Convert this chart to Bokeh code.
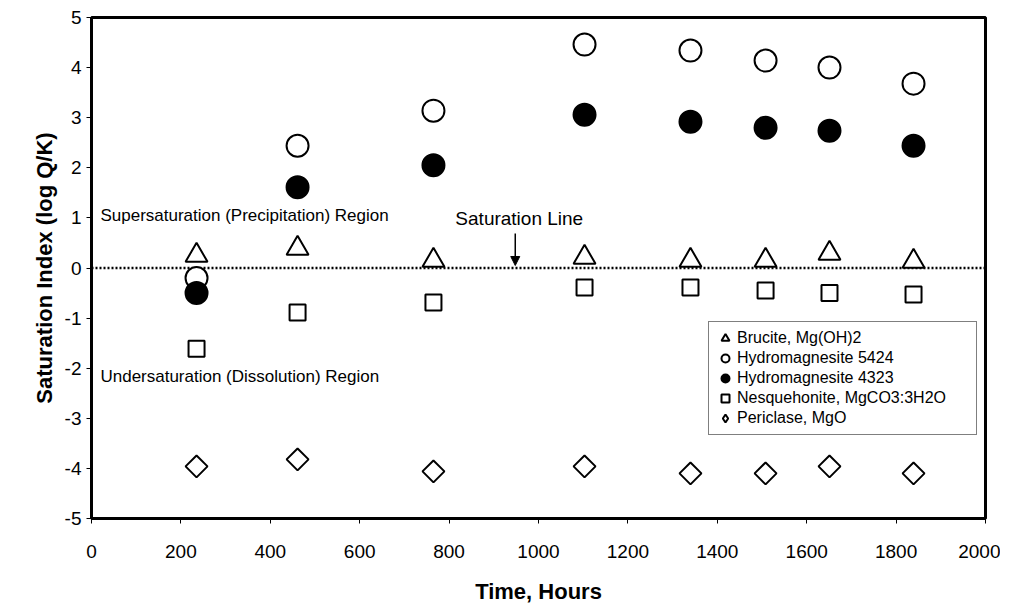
import math
from bokeh.plotting import figure
from bokeh.models import (Range1d, Legend, LegendItem, Arrow, NormalHead, Label,
                          FixedTicker, CustomJSTickFormatter)
from bokeh.embed import file_html
from bokeh.resources import INLINE

hours = [235, 461, 765, 1103, 1340, 1508, 1651, 1839]
brucite = [0.25, 0.39, 0.15, 0.21, 0.15, 0.15, 0.29, 0.13]
hydro5424 = [-0.2, 2.44, 3.14, 4.46, 4.34, 4.14, 4.0, 3.68]
hydro4323 = [-0.5, 1.61, 2.05, 3.06, 2.92, 2.80, 2.74, 2.44]
nesquehonite = [-1.61, -0.89, -0.69, -0.39, -0.39, -0.45, -0.50, -0.53]
periclase = [-3.96, -3.82, -4.06, -3.96, -4.10, -4.10, -3.96, -4.10]

x_ticks = [0, 200, 400, 600, 800, 1000, 1200, 1400, 1600, 1800, 2000]
y_ticks = [-5, -4, -3, -2, -1, 0, 1, 2, 3, 4, 5]

FONT = "Liberation Sans"

p = figure(width=1000, height=608, output_backend="svg", toolbar_location=None,
           x_range=Range1d(0, 2000), y_range=Range1d(-5, 5),
           min_border_left=91, min_border_right=15, min_border_top=17, min_border_bottom=90)
p.grid.visible = False
p.outline_line_color = "black"
p.outline_line_width = 3
p.background_fill_color = "white"

fmt = CustomJSTickFormatter(code="return tick.toString();")
for ax in (p.xaxis, p.yaxis):
    ax.axis_line_color = "black"
    ax.axis_line_width = 3
    ax.major_tick_line_color = "black"
    ax.major_tick_line_width = 1
    ax.major_tick_out = 5
    ax.major_tick_in = 0
    ax.minor_tick_line_color = None
    ax.major_label_text_font = FONT
    ax.major_label_text_font_size = "19px"
    ax.major_label_text_color = "black"
    ax.axis_label_text_font = FONT
    ax.axis_label_text_font_size = "22px"
    ax.axis_label_text_font_style = "bold"
    ax.axis_label_text_color = "black"
    ax.formatter = fmt

p.xaxis.ticker = FixedTicker(ticks=x_ticks)
p.yaxis.ticker = FixedTicker(ticks=y_ticks)
p.xaxis.axis_label = "Time, Hours"
p.yaxis.axis_label = "Saturation Index (log Q/K)"
p.xaxis.major_label_standoff = 21
p.yaxis.major_label_standoff = 5
p.xaxis.axis_label_standoff = 18
p.yaxis.axis_label_standoff = 5

# saturation line
p.line(x=[0, 2000], y=[0, 0], line_color="black", line_width=2.5, line_dash="2 2")

r_b = p.scatter(hours, brucite, marker="triangle", size=22, fill_color="white",
                line_color="black", line_width=2)
r_h5 = p.scatter(hours, hydro5424, marker="circle", size=22, fill_color="white",
                 line_color="black", line_width=2)
r_h4 = p.scatter(hours, hydro4323, marker="circle", size=22, fill_color="black",
                 line_color="black", line_width=2)
r_n = p.scatter(hours, nesquehonite, marker="square", size=16, fill_color="white",
                line_color="black", line_width=2)
r_p = p.scatter(hours, periclase, marker="square", size=15.5, angle=math.pi / 4,
                fill_color="white", line_color="black", line_width=2)
# hidden renderer only used to draw the periclase legend glyph (diamond)
r_p_leg = p.scatter(hours, periclase, marker="diamond", size=12, fill_color="white",
                    line_color="black", line_width=2, visible=False)

legend = Legend(items=[
    LegendItem(label="Brucite, Mg(OH)2", renderers=[r_b]),
    LegendItem(label="Hydromagnesite 5424", renderers=[r_h5]),
    LegendItem(label="Hydromagnesite 4323", renderers=[r_h4]),
    LegendItem(label="Nesquehonite, MgCO3:3H2O", renderers=[r_n]),
    LegendItem(label="Periclase, MgO", renderers=[r_p_leg]),
], location=(617, 83))
legend.click_policy = "none"
legend.inactive_fill_alpha = 0
legend.label_text_font = FONT
legend.label_text_font_size = "16px"
legend.label_text_color = "black"
legend.glyph_width = 20
legend.glyph_height = 20
legend.label_height = 20
legend.label_width = 233
legend.spacing = 0
legend.padding = 6
legend.margin = 0
legend.label_standoff = 2
legend.border_line_color = "black"
legend.border_line_width = 1
legend.background_fill_alpha = 1
p.add_layout(legend)

p.add_layout(Label(x=20, y=1.05, text="Supersaturation (Precipitation) Region",
                   text_font=FONT, text_font_size="17px", text_baseline="middle",
                   text_color="black"))
p.add_layout(Label(x=20, y=-2.17, text="Undersaturation (Dissolution) Region",
                   text_font=FONT, text_font_size="17px", text_baseline="middle",
                   text_color="black"))
p.add_layout(Label(x=814, y=0.99, text="Saturation Line",
                   text_font=FONT, text_font_size="19px", text_baseline="middle",
                   text_color="black"))
p.add_layout(Arrow(x_start=948, y_start=0.69, x_end=948, y_end=0.05,
                   line_color="black", line_width=1.5,
                   end=NormalHead(size=9, fill_color="black", line_color="black")))

open("out.html", "w").write(file_html(p, INLINE))
